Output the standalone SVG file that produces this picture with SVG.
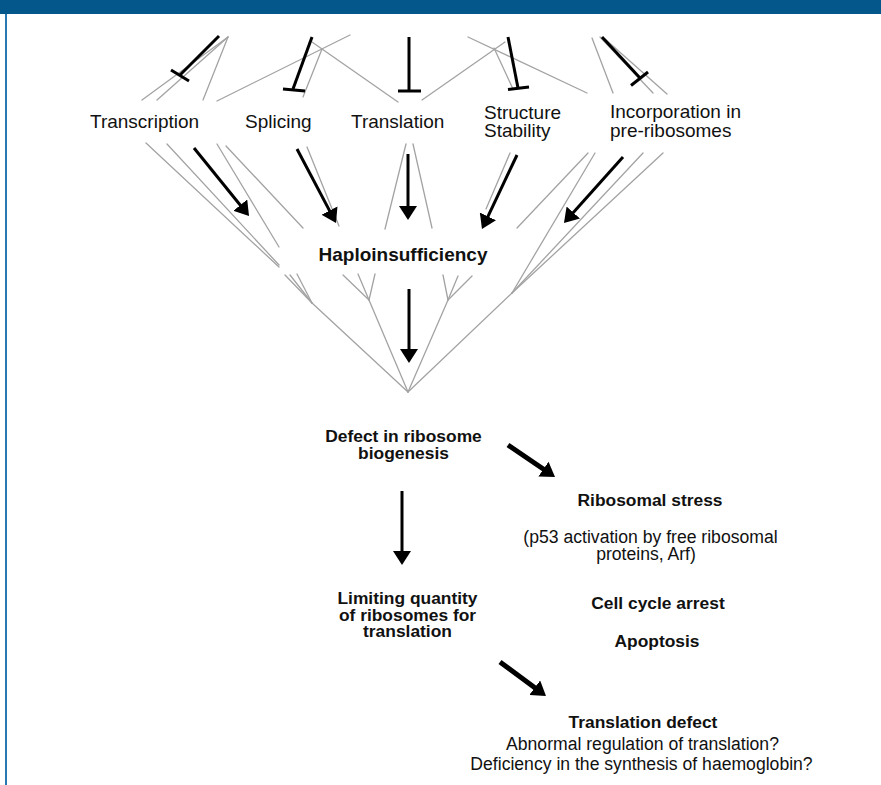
<svg xmlns="http://www.w3.org/2000/svg" width="881" height="785" viewBox="0 0 881 785">
<style>
.t{font-family:"Liberation Sans",Arial,sans-serif;fill:#111}
.r19{font-size:19px}
.r{font-size:17.6px;text-anchor:middle}
.b{font-size:17.4px;font-weight:bold;text-anchor:middle}
.g line{stroke:#a3a3a3;stroke-width:1.3;stroke-linecap:round}
.arr{stroke:#000;stroke-width:3;fill:none;marker-end:url(#ah)}
.arr.thick{stroke-width:5}
.inh{stroke:#000;stroke-width:3;fill:none}
</style>
<defs>
<marker id="ah" markerUnits="userSpaceOnUse" markerWidth="14" markerHeight="18" refX="6" refY="9" orient="auto" viewBox="0 0 14 18">
<path d="M0,0 L14,9 L0,18 z" fill="#000"/>
</marker>
</defs>
<rect width="881" height="785" fill="#fff"/>
<rect x="0" y="0" width="881" height="14" fill="#03578b"/>
<line x1="6" y1="14" x2="6" y2="785" stroke="#2a78b0" stroke-width="2"/>

<g id="tree" class="g">
<!-- top row -->
<line x1="142" y1="100" x2="228" y2="37"/>
<line x1="157" y1="100" x2="228" y2="37"/>
<line x1="203" y1="100" x2="228" y2="37"/>
<line x1="217" y1="101" x2="350" y2="35"/>
<line x1="303" y1="97" x2="322" y2="49"/>
<line x1="312" y1="42" x2="398" y2="102"/>
<line x1="422" y1="100" x2="505" y2="42"/>
<line x1="468" y1="37" x2="587" y2="93"/>
<line x1="494" y1="48" x2="513" y2="89"/>
<line x1="592" y1="38" x2="613" y2="93"/>
<line x1="600" y1="37" x2="653" y2="93"/>
<line x1="605" y1="39" x2="667" y2="94"/>
<!-- middle row -->
<line x1="146" y1="143" x2="279" y2="267"/>
<line x1="167" y1="144" x2="279" y2="265"/>
<line x1="217" y1="144" x2="279" y2="247"/>
<line x1="226" y1="146" x2="303" y2="228"/>
<line x1="307" y1="147" x2="339" y2="226"/>
<line x1="406" y1="144" x2="385" y2="229"/>
<line x1="413" y1="144" x2="432" y2="228"/>
<line x1="510" y1="153" x2="486" y2="209"/>
<line x1="588" y1="153" x2="517" y2="228"/>
<line x1="595" y1="153" x2="512" y2="293"/>
<line x1="643" y1="153" x2="512" y2="293"/>
<line x1="663" y1="153" x2="512" y2="293"/>
<!-- lower tree -->
<line x1="285" y1="275" x2="312" y2="303"/>
<line x1="290" y1="275" x2="312" y2="303"/>
<line x1="297" y1="274" x2="312" y2="303"/>
<line x1="312" y1="303" x2="408" y2="392"/>
<line x1="343" y1="275" x2="369" y2="300"/>
<line x1="358" y1="274" x2="369" y2="300"/>
<line x1="375" y1="274" x2="369" y2="300"/>
<line x1="369" y1="300" x2="408" y2="392"/>
<line x1="443" y1="275" x2="448" y2="300"/>
<line x1="458" y1="276" x2="448" y2="300"/>
<line x1="472" y1="276" x2="448" y2="300"/>
<line x1="448" y1="300" x2="408" y2="392"/>
<line x1="512" y1="293" x2="408" y2="392"/>
</g>

<g id="connectors">
<!-- inhibitions -->
<line class="inh" x1="219" y1="36" x2="180" y2="75"/>
<line class="inh" x1="171" y1="70" x2="189" y2="81"/>
<line class="inh" x1="312" y1="37" x2="293" y2="89"/>
<line class="inh" x1="283" y1="89" x2="305" y2="91"/>
<line class="inh" x1="409" y1="37" x2="409" y2="91"/>
<line class="inh" x1="398" y1="91" x2="421" y2="91"/>
<line class="inh" x1="508" y1="37" x2="518" y2="88"/>
<line class="inh" x1="508" y1="89.5" x2="529" y2="87"/>
<line class="inh" x1="602" y1="37" x2="640" y2="78"/>
<line class="inh" x1="631" y1="85.5" x2="648" y2="72"/>
<!-- activations -->
<line class="arr" x1="194" y1="148" x2="244" y2="209.8"/>
<line class="arr" x1="297" y1="149" x2="332.3" y2="215.9"/>
<line class="arr" x1="408" y1="154" x2="408" y2="212"/>
<line class="arr" x1="517" y1="155" x2="485.4" y2="221.8"/>
<line class="arr" x1="623" y1="157" x2="569.3" y2="217"/>
<line class="arr" x1="409" y1="289" x2="409" y2="355"/>
<line class="arr thick" x1="508" y1="445" x2="548.4" y2="472.5"/>
<line class="arr" x1="402" y1="491" x2="402" y2="557"/>
<line class="arr thick" x1="500" y1="662" x2="539.6" y2="691.2"/>
</g>

<g id="transcription"><text class="t r19" x="90" y="128">Transcription</text></g>
<g id="splicing"><text class="t r19" x="245" y="128">Splicing</text></g>
<g id="translation"><text class="t r19" x="351" y="128">Translation</text></g>
<g id="structure-stability"><text class="t r19" x="484" y="118.5">Structure</text><text class="t r19" x="484" y="137">Stability</text></g>
<g id="incorporation"><text class="t r19" x="610" y="118">Incorporation in</text><text class="t r19" x="610" y="136.5">pre-ribosomes</text></g>
<g id="haploinsufficiency"><text class="t b" style="font-size:19px" x="403" y="261">Haploinsufficiency</text></g>
<g id="defect-biogenesis"><text class="t b" x="403.5" y="442">Defect in ribosome</text><text class="t b" x="403.5" y="459">biogenesis</text></g>
<g id="ribosomal-stress">
<text class="t b" x="650" y="506">Ribosomal stress</text>
<text class="t r" x="650.5" y="543">(p53 activation by free ribosomal</text>
<text class="t r" x="646" y="559.5">proteins, Arf)</text>
</g>
<g id="limiting-quantity"><text class="t b" x="407.5" y="604">Limiting quantity</text><text class="t b" x="407.5" y="620.5">of ribosomes for</text><text class="t b" x="407.5" y="637">translation</text></g>
<g id="cell-cycle-arrest"><text class="t b" x="658" y="608.5">Cell cycle arrest</text></g>
<g id="apoptosis"><text class="t b" x="657" y="646.5">Apoptosis</text></g>
<g id="translation-defect">
<text class="t b" x="643" y="727.5">Translation defect</text>
<text class="t r" x="642.5" y="750">Abnormal regulation of translation?</text>
<text class="t r" x="641.5" y="770">Deficiency in the synthesis of haemoglobin?</text>
</g>
</svg>
